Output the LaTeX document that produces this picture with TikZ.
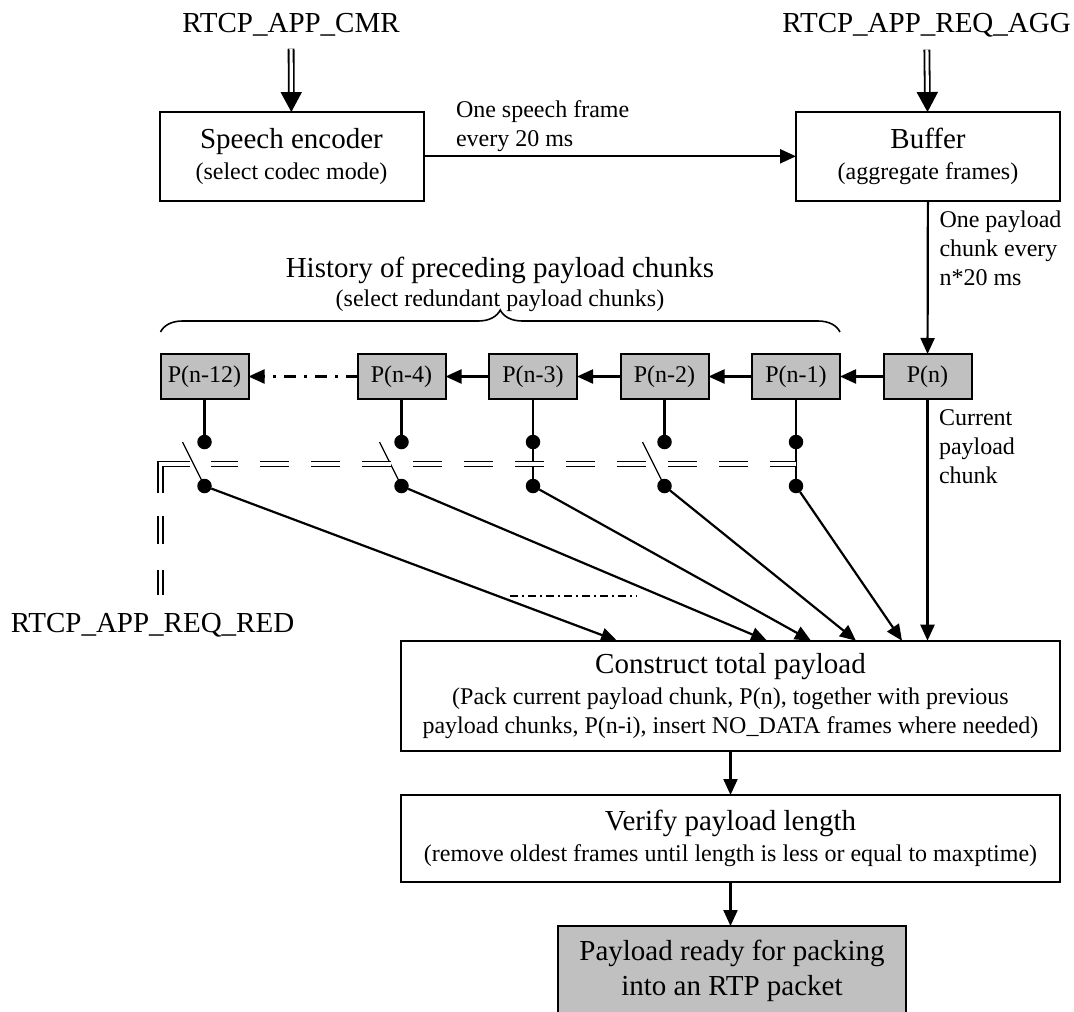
\documentclass[tikz,border=0pt]{standalone}
\usepackage{fontspec}
\setmainfont{Liberation Serif}
\usetikzlibrary{arrows.meta,positioning,calc,decorations.pathreplacing}
\definecolor{chunkgray}{HTML}{C0C0C0}
\newcommand{\bigsize}{\fontsize{29}{31}\selectfont}
\newcommand{\notesize}{\fontsize{24}{29}\selectfont}

\begin{document}
\begin{tikzpicture}[x=1pt,y=-1pt,line width=2pt,>={Triangle[length=16pt,width=14pt]},
  box/.style={draw,align=center,inner sep=0pt,outer sep=0pt,font=\bigsize},
  chunk/.style={draw,fill=chunkgray,minimum width=88pt,minimum height=45pt,inner sep=0pt,outer sep=0pt,font=\notesize},
  dot/.style={circle,fill,inner sep=0pt,outer sep=0pt,minimum size=14.5pt},
  note/.style={font=\notesize,align=left,inner sep=0pt,anchor=north west},
  sig/.style={font=\bigsize,inner sep=0pt,anchor=base},
  flow/.style={->,line width=2.2pt},
  blade/.style={line width=1.3pt},
  dbl/.style={double,double distance=3.2pt,line width=1.8pt,-{Triangle[length=20pt,width=21pt]}},
  ctrl/.style={double,double distance=3.2pt,line width=1.8pt}]
  \useasboundingbox (0,0) rectangle (1074,1012);
  \node[sig] (cmr) at (291,32) {RTCP\_APP\_CMR};
  \node[sig] (agg) at (926.6,32) {RTCP\_APP\_REQ\_AGG};
  \node[sig] (red) at (152.5,632) {RTCP\_APP\_REQ\_RED};
  \node[box,minimum width=264pt,minimum height=88.5pt] (enc) at (291.5,156.3) {Speech encoder\\{\notesize (select codec mode)}};
  \node[box,minimum width=264pt,minimum height=88.5pt] (buf) at (928,156.3) {Buffer\\{\notesize (aggregate frames)}};
  \node[note] (frame) at (455,100) {One speech frame\\every 20 ms};
  \node[note] (every) at (938.5,210) {One payload\\chunk every\\n*20 ms};
  \node[note] (curr) at (938,409) {Current\\payload\\chunk};
%
  \node[chunk] (pn) at (927.5,376.5) {P(n)};
  \node[chunk] (p1) [left=43.5pt of pn] {P(n-1)};
  \node[chunk] (p2) [left=43.5pt of p1] {P(n-2)};
  \node[chunk] (p3) [left=43.5pt of p2] {P(n-3)};
  \node[chunk] (p4) [left=43.5pt of p3] {P(n-4)};
  \node[chunk] (p12) [left=109pt of p4] {P(n-12)};
  \node[font=\bigsize,align=center,inner sep=0pt,anchor=north] (hist) at (500,256) {History of preceding payload chunks\\[-2pt]{\notesize (select redundant payload chunks)}};
  \draw[decorate,decoration={brace,amplitude=22pt},line width=1.6pt] ([yshift=22pt]p12.north west) -- ([yshift=22pt]p1.north east);
%
  \node[dot] (u1) at ([yshift=-43pt]p1.south) {};
  \node[dot] (u2) at ([yshift=-43pt]p2.south) {};
  \node[dot] (u3) at ([yshift=-43pt]p3.south) {};
  \node[dot] (u4) at ([yshift=-43pt]p4.south) {};
  \node[dot] (u12) at ([yshift=-43pt]p12.south) {};
  \node[dot] (l1) at ([yshift=-44pt]u1) {};
  \node[dot] (l2) at ([yshift=-44pt]u2) {};
  \node[dot] (l3) at ([yshift=-44pt]u3) {};
  \node[dot] (l4) at ([yshift=-44pt]u4) {};
  \node[dot] (l12) at ([yshift=-44pt]u12) {};
%
  \node[box,minimum width=659pt,minimum height=110pt] (cons) at (730.5,695.7) {Construct total payload\\{\notesize (Pack current payload chunk, P(n), together with previous}\\[-2pt]{\notesize payload chunks, P(n-i), insert NO\_DATA frames where needed)}};
  \node[box,minimum width=659pt,minimum height=87pt] (ver) at (730.5,838.5) {Verify payload length\\{\notesize (remove oldest frames until length is less or equal to maxptime)}};
  \node[box,fill=chunkgray,minimum width=348pt,minimum height=89pt] (pay) at (732,970.5) {Payload ready for packing\\[4pt]into an RTP packet};
  \coordinate (in12) at ([xshift=216pt]cons.north west);
  \coordinate (in4) at ([xshift=366pt]cons.north west);
  \coordinate (in3) at ([xshift=410pt]cons.north west);
  \coordinate (in2) at ([xshift=455pt]cons.north west);
  \coordinate (in1) at ([xshift=501pt]cons.north west);
%
  \draw[dbl,shorten <=12pt] (cmr) -- (enc);
  \draw[dbl,shorten <=12pt] (agg) -- (buf);
  \draw[flow] (enc) -- (buf);
  \draw[flow] (buf) -- (pn);
  \draw[flow] (pn) -- (p1);
  \draw[flow] (p1) -- (p2);
  \draw[flow] (p2) -- (p3);
  \draw[flow] (p3) -- (p4);
  \draw[flow,dash pattern=on 12pt off 8pt on 3pt off 8pt] (p4) -- (p12);
  \draw[line width=2.2pt] (p1) -- (u1) -- (l1);
  \draw[line width=2.2pt] (p2) -- (u2);
  \draw[line width=2.2pt] (p3) -- (u3) -- (l3);
  \draw[line width=2.2pt] (p4) -- (u4);
  \draw[line width=2.2pt] (p12) -- (u12);
  \draw[blade] (l2.center) -- ++(-22,-44);
  \draw[blade] (l4.center) -- ++(-22,-44);
  \draw[blade] (l12.center) -- ++(-22,-44);
%
  \coordinate (ctl) at ($(u1)!0.5!(l1)$);
  \coordinate (corner) at (p12.west |- ctl);
  \coordinate (redtop) at (corner |- 0,595);
  \draw[ctrl,dash pattern=on 29pt off 22pt,dash phase=3pt] (ctl) -- ([xshift=50.5pt]corner);
  \draw[ctrl,dash pattern=on 57.7pt off 23pt on 28pt off 26pt on 25pt off 20pt] ([xshift=29.2pt]corner) -- (corner) -- (redtop);
%
  \draw[flow] (l12) -- (in12);
  \draw[flow] (l4) -- (in4);
  \draw[flow] (l3) -- (in3);
  \draw[flow] (l2) -- (in2);
  \draw[flow] (l1) -- (in1);
  \draw[flow] (pn) -- (pn |- cons.north);
  \draw[line width=1.2pt,dash pattern=on 8pt off 4pt on 2pt off 4pt] (510,596) -- (637,596);
  \draw[flow] (cons) -- (ver);
  \draw[flow] (ver.south) -- (ver.south |- pay.north);
\end{tikzpicture}
\end{document}
